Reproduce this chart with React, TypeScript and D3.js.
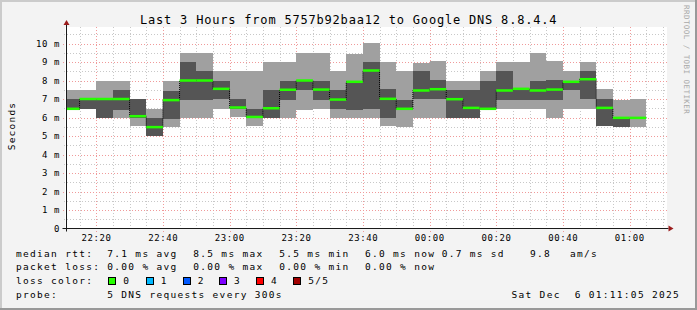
import React from "react";
import * as d3 from "d3";

// ---------- data ----------
const stepEnds = [
  "22:15","22:20","22:25","22:30","22:35","22:40","22:45","22:50","22:55","23:00",
  "23:05","23:10","23:15","23:20","23:25","23:30","23:35","23:40","23:45","23:50",
  "23:55","00:00","00:05","00:10","00:15","00:20","00:25","00:30","00:35","00:40",
  "00:45","00:50","00:55","01:00","01:05",
];
// sorted ping values (ms) per 5-minute step
const pingMin = [
  6.42,6.47,5.96,5.98,5.53,4.99,5.50,5.98,5.98,6.47,
  6.05,5.53,5.98,5.98,6.43,6.47,5.98,5.98,5.98,5.53,
  5.50,5.98,5.98,5.98,5.98,6.42,6.47,6.47,6.47,5.98,
  6.47,6.47,5.53,5.50,5.50,
];
const ping2 = [
  6.42,6.47,5.96,6.43,5.98,4.99,5.94,6.97,6.97,7.00,
  6.47,5.98,5.98,6.95,7.51,6.97,6.47,6.43,6.47,5.98,
  6.43,7.01,7.01,5.98,5.98,6.42,6.97,6.97,6.97,6.97,
  7.46,7.01,5.53,5.50,5.98,
];
const median = [
  6.47,7.00,7.00,7.00,6.07,5.48,6.94,8.00,8.00,7.55,
  6.54,6.03,6.50,7.50,8.00,7.51,6.97,7.93,8.54,7.01,
  6.47,7.46,7.53,6.99,6.52,6.47,7.46,7.55,7.46,7.51,
  7.93,8.07,6.52,5.98,5.98,
];
const ping4 = [
  7.00,7.00,7.00,7.46,7.00,5.98,7.42,8.99,8.54,8.00,
  7.00,6.47,7.46,8.00,8.00,8.00,7.51,8.00,8.99,7.55,
  6.95,8.49,8.04,7.46,7.51,7.96,8.54,7.55,7.96,8.04,
  8.00,8.54,7.01,5.98,5.98,
];
const pingMax = [
  7.50,7.46,8.00,8.00,7.00,6.47,7.96,9.48,9.51,8.54,
  8.49,8.49,8.99,8.99,9.48,9.51,8.54,9.41,10.04,8.99,
  8.54,8.94,9.03,8.00,8.00,8.49,8.99,8.99,9.48,9.03,
  8.49,8.99,7.55,6.92,7.01,
];
const yTickValues = [0,1,2,3,4,5,6,7,8,9,10];
const title = "Last 3 Hours from 5757b92baa12 to Google DNS 8.8.4.4";
const yAxisTitle = "Seconds";
const watermark = "RRDTOOL / TOBI OETIKER";
const rttLabel = "median rtt:";
const rttStats = ["7.1 ms avg","8.5 ms max","5.5 ms min","6.0 ms now","0.7 ms sd","9.8","am/s"];
const lossLabel = "packet loss:";
const lossStats = ["0.00 % avg","0.00 % max","0.00 % min","0.00 % now"];
const lossColorLabel = "loss color:";
const lossColorNames = ["0","1","2","3","4","5/5"];
const lossColorValues = ["#26ff00","#00b8ff","#0059ff","#7e00ff","#ff0000","#a10000"];
const probeLabel = "probe:";
const probeText = "5 DNS requests every 300s";
const stampText = "Sat Dec  6 01:11:05 2025";

// ---------- layout ----------
const W = 697, H = 310;
const PL = 66.5, PR = 666.5, PT = 27, PB = 228.5;
const FONT = "'DejaVu Sans Mono', monospace";
const rttX = [107.3,193.3,279.3,365,441.7,530,570];
const lossX = [107.3,193.3,279.3,365];
const swatchX = [108.3,145.7,182.7,219,256,293.3];

const parseEnd = (s: string) => {
  const [h, m] = s.split(":").map(Number);
  return new Date(2025, 11, h >= 12 ? 5 : 6, h, m, 0);
};

export default function App() {
  const start = new Date(2025, 11, 5, 22, 11, 5);
  const end = new Date(2025, 11, 6, 1, 11, 5);
  const x = d3.scaleTime().domain([start, end]).range([PL, PR]);
  const y = d3.scaleLinear().domain([0, (PB - PT) / 18.5]).range([PB, PT]);

  const bars = stepEnds.map((s, i) => {
    const e = parseEnd(s);
    const x0 = Math.max(x(new Date(e.getTime() - 300000)), PL);
    const x1 = x(e);
    return { x0, x1, p1: pingMin[i], p2: ping2[i], p3: median[i], p4: ping4[i], p5: pingMax[i] };
  });

  const minorX = d3.timeMinute.every(5)!.range(start, end);
  const majorX = d3.timeMinute.every(20)!.range(start, end);
  const minorY = d3.range(1, 22).map((k) => k * 0.5).filter((v) => v % 1 !== 0);
  const majorY = yTickValues.filter((v) => v > 0);

  const stepPts: [number, number][] = bars.map((b) => [b.x0, y(b.p3)]);
  stepPts.push([bars[bars.length - 1].x1, y(bars[bars.length - 1].p3)]);
  const stepPath = d3.line().curve(d3.curveStepAfter)(stepPts) || "";

  const fmt = d3.timeFormat("%H:%M");
  const txt = { fontFamily: FONT, whiteSpace: "pre" as const };

  return (
    <div style={{ position: "absolute", left: 0, top: 0 }}>
      <svg width={W} height={H} style={{ display: "block" }}>
        <rect x={0} y={0} width={W} height={H} fill="#f3f3f3" />
        {/* frame */}
        <rect x={0} y={0} width={W} height={2} fill="#cbcbcb" />
        <rect x={0} y={0} width={2} height={H} fill="#cbcbcb" />
        <rect x={0} y={H - 2} width={W} height={2} fill="#999999" />
        <rect x={W - 2} y={0} width={2} height={H} fill="#999999" />

        {/* canvas */}
        <rect x={PL - 1.5} y={PT} width={PR - PL + 2} height={PB - PT} fill="#ffffff" />

        {/* grid */}
        <g strokeWidth={1} strokeDasharray="1,2" shapeRendering="crispEdges">
          {minorY.map((v) => (
            <line key={"my" + v} x1={PL - 3} x2={PR} y1={Math.round(y(v)) + 0.5} y2={Math.round(y(v)) + 0.5} stroke="#c8c8c8" />
          ))}
          {minorX.filter((t) => t.getMinutes() % 20 !== 0).map((t) => (
            <line key={"mx" + +t} y1={PT} y2={PB + 2} x1={Math.round(x(t)) + 0.5} x2={Math.round(x(t)) + 0.5} stroke="#c8c8c8" />
          ))}
          {majorY.map((v) => (
            <line key={"My" + v} x1={PL - 4} x2={PR} y1={Math.round(y(v)) + 0.5} y2={Math.round(y(v)) + 0.5} stroke="#f09a9a" />
          ))}
          {majorX.map((t) => (
            <line key={"Mx" + +t} y1={PT} y2={PB + 3} x1={Math.round(x(t)) + 0.5} x2={Math.round(x(t)) + 0.5} stroke="#f09a9a" />
          ))}
        </g>

        {/* smoke */}
        <g shapeRendering="crispEdges">
          {bars.map((b, i) => (
            <g key={"b" + i}>
              <rect x={b.x0} width={b.x1 - b.x0} y={y(b.p2)} height={y(b.p1) - y(b.p2)} fill="#a0a0a0" />
              <rect x={b.x0} width={b.x1 - b.x0} y={y(b.p4)} height={y(b.p2) - y(b.p4)} fill="#555555" />
              <rect x={b.x0} width={b.x1 - b.x0} y={y(b.p5)} height={y(b.p4) - y(b.p5)} fill="#a0a0a0" />
            </g>
          ))}
        </g>
        <path d={stepPath} fill="none" stroke="#000" strokeWidth={1} strokeDasharray="1,1" />
        <g>
          {bars.map((b, i) => (
            <rect key={"m" + i} x={b.x0} width={b.x1 - b.x0} y={y(b.p3) - 1.25} height={2.5} fill="#26ff00" />
          ))}
        </g>

        {/* axes */}
        <line x1={PL - 4} x2={PR + 2} y1={PB} y2={PB} stroke="#1a1a1a" strokeWidth={1} />
        <path d={`M${PR + 2},${PB - 3} L${PR + 7},${PB} L${PR + 2},${PB + 3} Z`} fill="#9b1c1c" />
        <line x1={PL} x2={PL} y1={PB + 3} y2={PT - 2} stroke="#1a1a1a" strokeWidth={1} />
        <path d={`M${PL - 3},${PT - 2} L${PL},${PT - 7} L${PL + 3},${PT - 2} Z`} fill="#9b1c1c" />

        {/* y labels */}
        {yTickValues.map((v) => (
          <text key={"yl" + v} x={60} y={y(v) + 3.3} textAnchor="end" fontSize={9} letterSpacing={0.6} style={txt} fill="#000">
            {v === 0 ? "0" : `${v} m`}
          </text>
        ))}
        {/* x labels */}
        {majorX.map((t) => (
          <text key={"xl" + +t} x={x(t) + 0.3} y={241} textAnchor="middle" fontSize={9} letterSpacing={0.6} style={txt} fill="#000">
            {fmt(t)}
          </text>
        ))}

        {/* title */}
        <text x={140} y={24} fontSize={12} letterSpacing={0.8} style={txt} fill="#000">{title}</text>
        <text transform={`translate(15,126) rotate(-90)`} textAnchor="middle" fontSize={9.5} letterSpacing={1.2} style={txt} fill="#000">{yAxisTitle}</text>
        <text transform={`translate(684,5) rotate(90)`} fontSize={7.5} letterSpacing={0.45} style={txt} fill="#a8a8a8">{watermark}</text>

        {/* legend */}
        <g fontSize={9.5} letterSpacing={1.3} fill="#000">
          <text x={16} y={256.8} style={txt}>{rttLabel}</text>
          {rttStats.map((s, i) => (
            <text key={"r" + i} x={rttX[i]} y={256.8} style={txt}>{s}</text>
          ))}
          <text x={16} y={270.3} style={txt}>{lossLabel}</text>
          {lossStats.map((s, i) => (
            <text key={"l" + i} x={lossX[i]} y={270.3} style={txt}>{s}</text>
          ))}
          <text x={16} y={284} style={txt}>{lossColorLabel}</text>
          {lossColorNames.map((s, i) => (
            <g key={"c" + i}>
              <rect x={swatchX[i] + 0.5} y={277.5} width={7} height={7} fill={lossColorValues[i]} stroke="#000" strokeWidth={1} shapeRendering="crispEdges" />
              <text x={swatchX[i] + 15} y={284} style={txt}>{s}</text>
            </g>
          ))}
          <text x={16} y={297.5} style={txt}>{probeLabel}</text>
          <text x={107.3} y={297.5} style={txt}>{probeText}</text>
          <text x={680} y={297.5} textAnchor="end" style={txt}>{stampText}</text>
        </g>
      </svg>
    </div>
  );
}
